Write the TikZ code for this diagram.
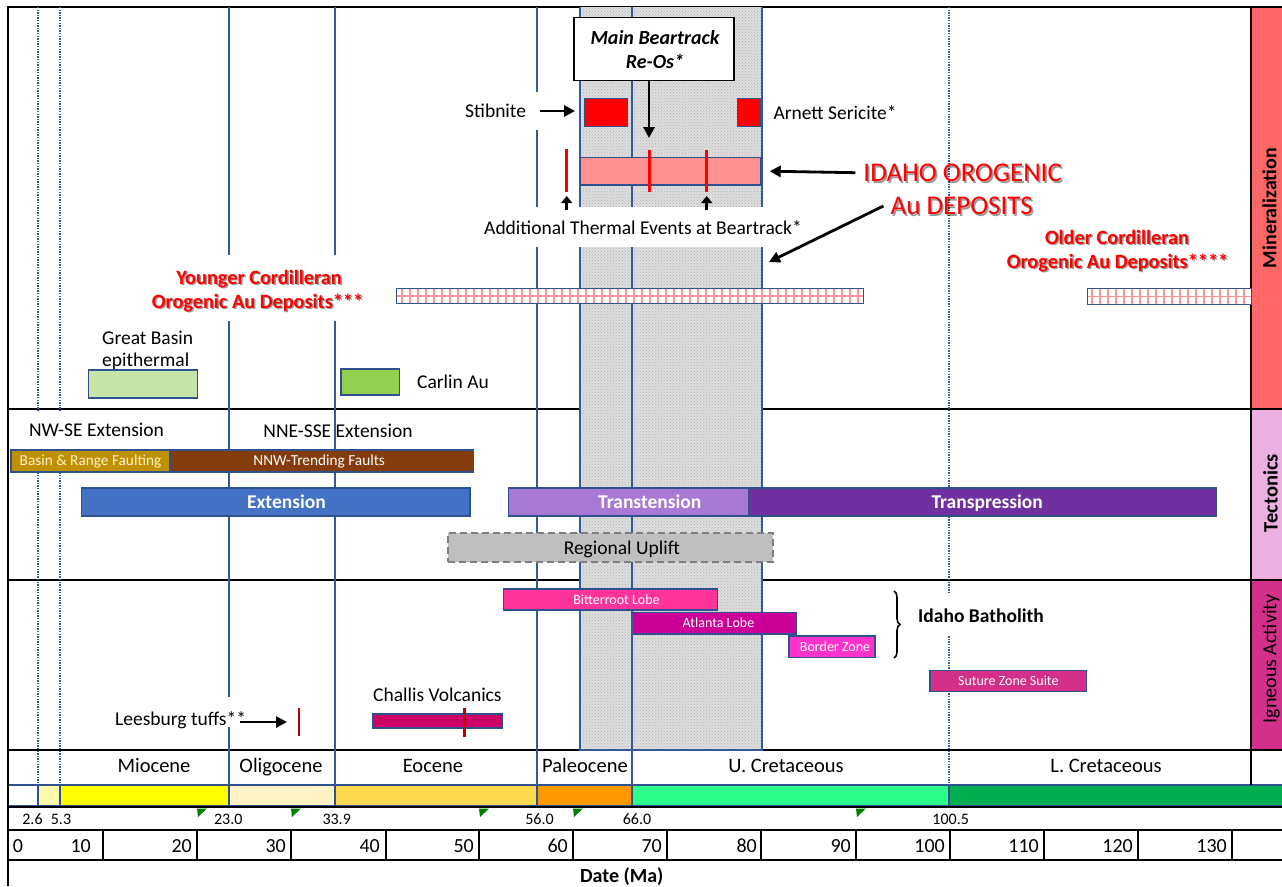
\documentclass[tikz,border=0pt]{standalone}
\usepackage{fontspec}
\setmainfont{Carlito}
\usetikzlibrary{arrows.meta,patterns,decorations.pathreplacing}
\newcommand\pxf[1]{\fontsize{#1}{#1}\selectfont}
\definecolor{lb}{RGB}{52,88,156}
\definecolor{barb}{RGB}{47,82,143}
\definecolor{minc}{RGB}{255,102,102}
\definecolor{tecc}{RGB}{235,176,224}
\definecolor{ignc}{RGB}{210,48,138}
\definecolor{gbc}{RGB}{200,228,166}
\definecolor{carc}{RGB}{146,208,80}
\definecolor{pinkc}{RGB}{255,145,145}
\definecolor{gridc}{RGB}{255,150,150}
\definecolor{brc}{RGB}{191,144,0}
\definecolor{brtxt}{RGB}{255,242,204}
\definecolor{nnwc}{RGB}{132,60,12}
\definecolor{extc}{RGB}{68,114,196}
\definecolor{ttnc}{RGB}{167,121,213}
\definecolor{tpc}{RGB}{112,48,160}
\definecolor{upc}{RGB}{191,191,191}
\definecolor{updash}{RGB}{127,127,127}
\definecolor{bitc}{RGB}{255,51,153}
\definecolor{atlc}{RGB}{204,0,153}
\definecolor{bzc}{RGB}{255,51,204}
\definecolor{szc}{RGB}{212,48,138}
\definecolor{chc}{RGB}{204,0,102}
\definecolor{dkred}{RGB}{192,0,0}
\definecolor{ep1}{RGB}{250,250,170}
\definecolor{ep2}{RGB}{255,255,0}
\definecolor{ep3}{RGB}{255,242,196}
\definecolor{ep4}{RGB}{255,217,80}
\definecolor{ep5}{RGB}{255,153,0}
\definecolor{ep6}{RGB}{46,255,138}
\definecolor{ep7}{RGB}{0,176,80}
\definecolor{mkc}{RGB}{0,128,0}
\definecolor{bandc}{RGB}{222,222,222}
\tikzset{
  frame/.style={line width=2.2pt, black},
  vsol/.style={lb, line width=1.3pt},
  vdot/.style={lb, line width=1.4pt, dash pattern=on 1.3pt off 1.3pt},
  bar/.style={draw=barb, line width=1.3pt, inner sep=0pt, anchor=center, text=white},
  lab/.style={font=\pxf{19.5}, inner sep=0pt, text height=12.6pt, text depth=0pt},
  labb/.style={lab, font=\pxf{19.5}\bfseries},
  epo/.style={font=\pxf{20.5}, inner sep=0pt, text height=13.2pt, text depth=0pt},
  ax/.style={font=\pxf{20}, inner sep=0pt, text height=12.9pt, text depth=0pt},
  num/.style={font=\pxf{16}, inner sep=0pt, text height=10.3pt, text depth=0pt},
  sm/.style={font=\pxf{14}, inner sep=0pt, text height=9pt, text depth=0pt},
  sm15/.style={font=\pxf{15.3}, inner sep=0pt, text height=9.8pt, text depth=0pt},
  big/.style={font=\pxf{27}, inner sep=0pt, text height=17.4pt, text depth=0pt},
  redb/.style={labb, font=\pxf{20.3}\bfseries, text=red},
  shb/.style={labb, font=\pxf{20.3}\bfseries, text=black, opacity=0.4},
  redbig/.style={big, text=red},
  shbig/.style={big, text=black, opacity=0.4},
  arr/.style={line width=2.8pt, -{Triangle[length=11pt,width=11pt]}},
  arrs/.style={line width=2.8pt, -{Triangle[length=7pt,width=11pt]}},
  tick/.style={red, line width=3pt},
}
\begin{document}
\begin{tikzpicture}[x=1pt,y=-1pt]
\useasboundingbox (0,0) rectangle (1282,886);
% right column
\fill[minc] (1251,7) rectangle (1282,409);
\fill[tecc] (1251,409) rectangle (1282,580);
\fill[ignc] (1251,580) rectangle (1282,750);
% colour bar
\foreach \a/\b/\c in {8/38/white, 38/60/ep1, 60/229/ep2, 229/335/ep3, 335/537/ep4, 537/632/ep5, 632/949/ep6, 949/1283/ep7}
  \draw[barb, line width=1.2pt, fill=\c] (\a,785) rectangle (\b,806);
% frame
\draw[frame] (8,7) -- (1282,7);
\draw[frame] (8,6) -- (8,886);
\draw[frame] (1251,7) -- (1251,785);
\foreach \y in {409,580,750,807,830,860} \draw[frame] (8,\y) -- (1282,\y);
% band
\fill[bandc] (580,7) rectangle (762,750);
\fill[pattern=crosshatch dots, pattern color=black!30] (580,7) rectangle (762,750);
\draw[vsol] (580,7) -- (580,750) -- (762,750) -- (762,7);
% time lines
\foreach \x in {229,335,537,632} \draw[vsol] (\x,7) -- (\x,785);
\foreach \x in {38,60,949} \draw[vdot] (\x,7) -- (\x,785);
% text box backgrounds
\fill[white] (140,255) rectangle (372,321);
\fill[white] (455,92) rectangle (541,130);
\fill[white] (476,207) rectangle (810,247);
\fill[white] (18,411) rectangle (176,448);
\fill[white] (106,697) rectangle (255,727);
\fill[white] (908,593) rectangle (1055,636);

% ---------- Mineralization ----------
\node[draw, line width=1.5pt, fill=white, minimum width=160pt, minimum height=63pt, inner sep=0pt] (bt) at (654,49) {};
\node[lab, font=\pxf{20}\bfseries\itshape] (bt1) at (655,38) {Main Beartrack};
\node[lab, font=\pxf{20}\bfseries\itshape] (bt2) at (655,62) {Re-Os*};
\node[bar, fill=red, minimum width=42.6pt, minimum height=28pt] (stibbox) at (606,112.7) {};
\node[bar, fill=red, minimum width=22.3pt, minimum height=28pt] (arnbox) at (748.9,112.7) {};
\node[lab, anchor=west] (stib) at (465,111) {Stibnite};
\node[lab, anchor=west] (arn) at (773.3,113) {Arnett Sericite*};
\node[bar, fill=pinkc, minimum width=180.7pt, minimum height=27.7pt] (pinkbar) at (670.7,171.2) {};
\draw[tick] (566.7,149) -- (566.7,192);
\draw[tick] (649,150) -- (649,192);
\draw[tick] (706.7,150) -- (706.7,192);
\coordinate (btend) at (649,138);
\draw[arr] (bt.south -| btend) -- (btend);
\draw[arr] ([xshift=14pt]stib.east) -- ([xshift=-9pt]stib.east -| stibbox.west);
\node[lab] (therm) at (643,228) {Additional Thermal Events at Beartrack*};
\coordinate (u1a) at (566.7,210); \coordinate (u1b) at (566.7,196);
\coordinate (u2a) at (706.7,210); \coordinate (u2b) at (706.7,196);
\draw[arrs] (u1a) -- (u1b);
\draw[arrs] (u2a) -- (u2b);
\node[shbig] (idsh1) at (964.4,174.4) {IDAHO OROGENIC};
\node[shbig] (idsh2) at (963.4,207.7) {Au DEPOSITS};
\node[redbig] (idaho) at (962.7,172.7) {IDAHO OROGENIC};
\node[redbig] (audep) at (961.7,206) {Au DEPOSITS};
\draw[arr] ([xshift=-8pt]idaho.west) -- ([xshift=8pt]pinkbar.east);
\coordinate (auend) at (769,262);
\draw[arr] ([xshift=-7pt]audep.west) -- (auend);
\node[shb] (ysh1) at (260.5,279.5) {Younger Cordilleran};
\node[shb] (ysh2) at (259,303.5) {Orogenic Au Deposits***};
\node[redb] (yc1) at (259,278) {Younger Cordilleran};
\node[redb] (yc2) at (257.5,302) {Orogenic Au Deposits***};
\node[shb] (osh1) at (1118.5,239.5) {Older Cordilleran};
\node[shb] (osh2) at (1119,263.5) {Orogenic Au Deposits****};
\node[redb] (oc1) at (1117,238) {Older Cordilleran};
\node[redb] (oc2) at (1117.5,262) {Orogenic Au Deposits****};
% hatched bars
\node[inner sep=0pt, fill=white, minimum width=466pt, minimum height=14pt] (ycb) at (630,296) {};
\begin{scope}
\clip (397,289) rectangle (863,303);
\foreach \x in {402,410,...,863} \draw[gridc, line width=1.7pt] (\x,289) -- (\x,303);
\draw[gridc, line width=1.7pt] (397,296) -- (863,296);
\end{scope}
\draw[barb, line width=1.3pt] (ycb.north west) rectangle (ycb.south east);
\node[inner sep=0pt, fill=white, minimum width=163pt, minimum height=15pt] (ocb) at (1169.5,296.5) {};
\begin{scope}
\clip (1088,289) rectangle (1251,304);
\foreach \x in {1092,1100,...,1251} \draw[gridc, line width=1.7pt] (\x,289) -- (\x,304);
\draw[gridc, line width=1.7pt] (1088,296.5) -- (1251,296.5);
\end{scope}
\draw[barb, line width=1.3pt] (ocb.north west) rectangle (ocb.south east);
\node[lab, anchor=west] (gb1) at (102,338) {Great Basin};
\node[lab, anchor=west] (gb2) at (102,360) {epithermal};
\node[bar, fill=gbc, minimum width=108.6pt, minimum height=28pt] (gbbar) at (143,384) {};
\node[bar, fill=carc, minimum width=58.3pt, minimum height=26pt] (carbar) at (370.2,382) {};
\node[lab, anchor=west] (carl) at (417,382) {Carlin Au};

% ---------- Tectonics ----------
\node[lab] (nwse) at (96.5,430) {NW-SE Extension};
\node[lab] (nnse) at (338,431) {NNE-SSE Extension};
\node[bar, fill=brc, minimum width=159pt, minimum height=22pt, sm15, text=brtxt] (bnr) at (90.5,461) {Basin \& Range Faulting};
\node[bar, fill=nnwc, minimum width=303.3pt, minimum height=22pt, sm15] (nnw) at (321.7,461) {\hspace*{-5pt}NNW-Trending Faults};
\node[bar, fill=extc, minimum width=388.3pt, minimum height=28pt, labb, text=white] (ext) at (275.9,502) {\hspace*{21pt}Extension};
\node[bar, fill=ttnc, minimum width=240pt, minimum height=28pt, labb, text=white] (ttn) at (628.3,502) {\hspace*{43pt}Transtension};
\node[bar, fill=tpc, minimum width=467.7pt, minimum height=28pt, labb, text=white] (tpr) at (982.2,502) {\hspace*{10pt}Transpression};
\node[bar, fill=upc, draw=updash, line width=2pt, dash pattern=on 7pt off 4pt, minimum width=325pt, minimum height=29pt, lab, text=black] (upl) at (610.8,547.8) {\hspace*{22pt}Regional Uplift};

% ---------- Igneous ----------
\node[bar, fill=bitc, minimum width=214.4pt, minimum height=21pt, sm] (bit) at (610.5,599.5) {\hspace*{12pt}Bitterroot Lobe};
\node[bar, fill=atlc, minimum width=163.4pt, minimum height=21.7pt, sm] (atl) at (715,623.2) {\hspace*{7pt}Atlanta Lobe};
\node[bar, fill=bzc, minimum width=86pt, minimum height=21.3pt, sm] (bz) at (832,646.7) {\hspace*{6pt}Border Zone};
\draw[decorate, decoration={brace, amplitude=6pt}, line width=1.6pt] (894,591) -- (894,658);
\node[labb] (idb) at (981,616) {Idaho Batholith};
\node[bar, fill=szc, minimum width=156.7pt, minimum height=21pt, sm] (sz) at (1008.3,681.2) {Suture Zone Suite};
\node[lab, anchor=west] (chl) at (373,695) {Challis Volcanics};
\node[bar, fill=chc, minimum width=130pt, minimum height=14pt] (chbar) at (437.7,721) {};
\draw[dkred, line width=2.6pt] (464.3,708) -- (464.3,737);
\node[lab, anchor=west] (lee) at (115,719) {Leesburg tuffs**};
\coordinate (lea) at (240,722); \coordinate (leb) at (287,722);
\draw[arr] (lea) -- (leb);
\draw[dkred, line width=2.6pt] (299,708) -- (299,736);

% ---------- side labels ----------
\node[labb, font=\pxf{20}\bfseries, text height=12.9pt, rotate=90] (smin) at (1270,208) {Mineralization};
\node[labb, font=\pxf{20.5}\bfseries, text height=13.2pt, rotate=90] (stec) at (1271,493) {Tectonics};
\node[lab, font=\pxf{20}, text height=12.9pt, rotate=90] (sign) at (1270,659) {Igneous Activity};

% ---------- epochs ----------
\node[epo] (e1) at (154,766) {Miocene};
\node[epo] (e2) at (281,766) {Oligocene};
\node[epo] (e3) at (433,766) {Eocene};
\node[epo] (e4) at (585,766) {Paleocene};
\node[epo] (e5) at (786,766) {U. Cretaceous};
\node[epo] (e6) at (1106,766) {L. Cretaceous};
% boundary ages
\node[num] (b1) at (32.5,819) {2.6};
\node[num] (b2) at (61,819) {5.3};
\node[num] (b3) at (228.3,819) {23.0};
\node[num] (b4) at (336.7,819) {33.9};
\node[num] (b5) at (539.5,819) {56.0};
\node[num] (b6) at (637,819) {66.0};
\node[num] (b7) at (950.7,819) {100.5};
\foreach \x in {197,291,479,573,856} \fill[mkc] (\x,808.5) -- (\x+10,808.5) -- (\x+1,817) -- cycle;
% axis
\foreach \x in {103,197,291,386,479,573,667,761,856,950,1044,1138,1232} \draw[frame] (\x,830) -- (\x,860);
\node[ax] (a0) at (18,846) {0};
\foreach \v/\x in {10/91,20/192,30/286,40/380,50/474,60/568,70/662,80/757,90/851,100/945,110/1039,120/1133,130/1227}
  \node[ax, anchor=east] (a\v) at (\x,846) {\v};
\node[ax, font=\pxf{20}\bfseries] (date) at (621.7,876) {Date (Ma)};
\end{tikzpicture}
\end{document}
